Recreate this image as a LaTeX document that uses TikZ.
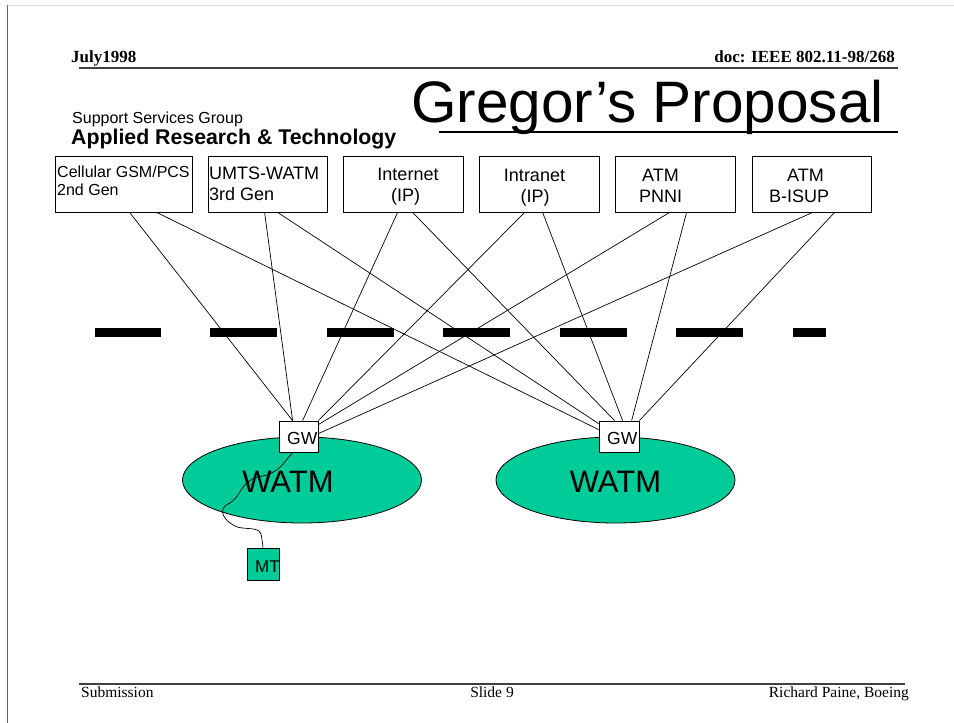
\documentclass[tikz,border=0pt]{standalone}
\usepackage{fontspec}
\setmainfont{Liberation Serif}
\newfontfamily\arialf{Liberation Sans}
\usetikzlibrary{calc,shapes.geometric}
\definecolor{watm}{HTML}{00CC99}
\begin{document}
\begin{tikzpicture}[x=1pt,y=-1pt,
  srcbox/.style={draw=black, line width=0.8pt, minimum height=56pt, inner sep=0pt},
  lbl/.style={inner sep=0pt, font=\arialf\fontsize{18}{21}\selectfont},
  lblsmall/.style={inner sep=0pt, anchor=base west, font=\arialf\fontsize{16}{19}\selectfont},
  link/.style={line width=0.7pt},
  gwbox/.style={draw=black, fill=white, line width=0.8pt, minimum height=31pt, inner sep=0pt},
  cloud/.style={ellipse, draw=black, fill=watm, line width=0.8pt, minimum width=239pt, minimum height=86pt, inner sep=0pt},
  dashbar/.style={fill=black},
  hdr/.style={inner sep=0pt, font=\bfseries\fontsize{17}{20}\selectfont},
  ftr/.style={inner sep=0pt, font=\fontsize{15.5}{18}\selectfont},
  rule/.style={draw=black!75, line width=1.2pt}
]
\useasboundingbox (0,0) rectangle (954,723);
% page frame
\draw[black!12, line width=0.6pt] (7,5) -- (954,5);
\draw[black!60, line width=0.8pt] (7,5) -- (7,723);

% header
\node[hdr, anchor=base west] (date) at (71,62) {July1998};
\node[hdr, anchor=base east] (docid) at (895,62) {doc: IEEE 802.11-98/268};
\draw[rule] (79,68) -- (898,68);
\node[inner sep=0pt, anchor=base west, font=\arialf\fontsize{58.5}{62}\selectfont] (title) at (411,122) {Gregor’s Proposal};
\draw[black, line width=2pt] (439,132) -- (898,132);
\node[lblsmall] (grp) at (72,123) {Support Services Group};
\node[inner sep=0pt, anchor=base west, font=\arialf\bfseries\fontsize{21.3}{24}\selectfont] (art) at (71,144) {Applied Research \& Technology};

% source boxes
\node[srcbox, minimum width=137pt] (b1) at (123.5,184) {};
\node[srcbox, minimum width=119pt] (b2) at (267.5,184) {};
\node[srcbox, minimum width=120pt] (b3) at (403,184) {};
\node[srcbox, minimum width=120pt] (b4) at (539,184) {};
\node[srcbox, minimum width=120pt] (b5) at (675,184) {};
\node[srcbox, minimum width=119pt] (b6) at (811.5,184) {};

\node[lblsmall] (t1a) at (57,177) {Cellular GSM/PCS};
\node[lblsmall] (t1b) at (57,195) {2nd Gen};
\node[lbl, anchor=base west] (t2a) at (209,179) {UMTS-WATM};
\node[lbl, anchor=base west] (t2b) at (209,200) {3rd Gen};
\node[lbl, anchor=base] (t3a) at (408,180) {Internet};
\node[lbl, anchor=base] (t3b) at (405.5,201) {(IP)};
\node[lbl, anchor=base] (t4a) at (534.5,181) {Intranet};
\node[lbl, anchor=base] (t4b) at (535,202) {(IP)};
\node[lbl, anchor=base] (t5a) at (660.5,181) {ATM};
\node[lbl, anchor=base] (t5b) at (660.5,202) {PNNI};
\node[lbl, anchor=base] (t6a) at (805.5,181) {ATM};
\node[lbl, anchor=base] (t6b) at (799,202) {B-ISUP};

% dashed separator
\fill[dashbar] (95,328) rectangle (161,337);
\fill[dashbar] (210,328) rectangle (277,337);
\fill[dashbar] (327,328) rectangle (394,337);
\fill[dashbar] (443,328) rectangle (510,337);
\fill[dashbar] (560,328) rectangle (627,337);
\fill[dashbar] (676,328) rectangle (743,337);
\fill[dashbar] (793,328) rectangle (826,337);

% WATM clouds
\node[cloud] (w1) at (302,480) {};
\node[cloud] (w2) at (615.5,480) {};
\node[inner sep=0pt, anchor=base, font=\arialf\fontsize{31}{34}\selectfont] (w1t) at (288,492) {WATM};
\node[inner sep=0pt, anchor=base, font=\arialf\fontsize{31}{34}\selectfont] (w2t) at (615.5,492) {WATM};

% gateways
\node[gwbox, minimum width=39pt] (gw1) at (298.5,436.5) {};
\node[gwbox, minimum width=40pt] (gw2) at (619,436.5) {};
\node[inner sep=0pt, anchor=base west, font=\arialf\fontsize{17.5}{20}\selectfont] (gw1t) at (287,444) {GW};
\node[inner sep=0pt, anchor=base west, font=\arialf\fontsize{17.5}{20}\selectfont] (gw2t) at (607,444) {GW};

% mobile terminal
\node[draw=black, fill=watm, line width=0.8pt, minimum width=32pt, minimum height=32pt, inner sep=0pt] (mt) at (263,564) {};
\node[inner sep=0pt, anchor=base west, font=\arialf\fontsize{17}{20}\selectfont] (mtt) at (255,572.5) {MT};

% links to left gateway
\draw[link] ([xshift=75pt]b1.south west) -- ([xshift=14pt]gw1.north west);
\draw[link] ([xshift=57pt]b2.south west) -- ([xshift=14pt]gw1.north west);
\draw[link] ([xshift=55pt]b3.south west) -- ([xshift=24pt]gw1.north west);
\draw[link] ([xshift=46pt]b4.south west) -- (gw1.north east);
\draw[link] ([xshift=55pt]b5.south west) -- ([yshift=-4pt]gw1.north east);
\draw[link] ([xshift=61pt]b6.south west) -- ([yshift=-13pt]gw1.north east);
% links to right gateway
\draw[link] ([xshift=102pt]b1.south west) -- ([yshift=-9pt]gw2.north west);
\draw[link] ([xshift=70pt]b2.south west) -- ([yshift=-3pt]gw2.north west);
\draw[link] ([xshift=70pt]b3.south west) -- ([xshift=16pt]gw2.north west);
\draw[link] ([xshift=64pt]b4.south west) -- ([xshift=24pt]gw2.north west);
\draw[link] ([xshift=72pt]b5.south west) -- ([xshift=33pt]gw2.north west);
\draw[link] ([xshift=83pt]b6.south west) -- (gw2.north east);

% wireless link GW -> MT
\draw[link] plot[smooth, tension=0.5] coordinates {([xshift=-5.5pt]gw1.south) (288,458) (283,464) (276.7,470) (266.7,475) (255,477.7) (246.7,483) (241.7,489) (236.7,496.7) (231.7,501.7) (225,506) (222.7,510) (223.3,515) (228.3,521.7) (238.3,527.3) (255,529.3) (260.7,533.3) (mt.north)};

% footer
\draw[rule] (79,684) -- (905,684);
\node[ftr, anchor=base west] (sub) at (81,697) {Submission};
\node[ftr, anchor=base] (slide) at (492,697) {Slide 9};
\node[ftr, anchor=base east] (auth) at (909,697) {Richard Paine, Boeing};
\end{tikzpicture}
\end{document}
